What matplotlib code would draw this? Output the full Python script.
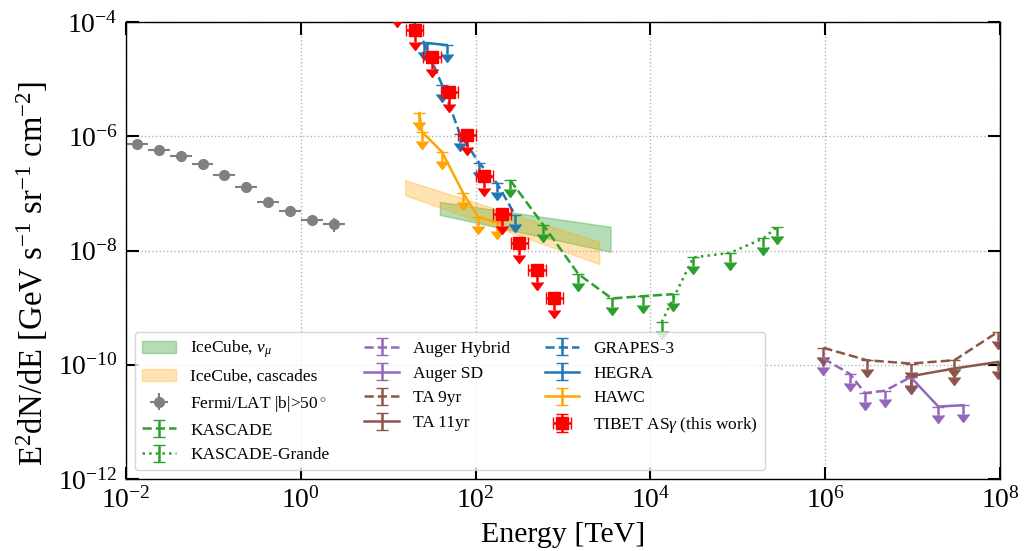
import numpy as np
import matplotlib
matplotlib.use('Agg')
import matplotlib.pyplot as plt
from matplotlib.ticker import FixedLocator, FixedFormatter, NullLocator

plt.rcParams['font.family'] = ['Liberation Serif', 'DejaVu Serif']
plt.rcParams['mathtext.fontset'] = 'custom'
plt.rcParams['mathtext.rm'] = 'Liberation Serif'
plt.rcParams['mathtext.it'] = 'Liberation Serif:italic'
plt.rcParams['mathtext.bf'] = 'Liberation Serif:bold'

# ---------------- data (E in TeV, E^2 dN/dE in GeV s^-1 sr^-1 cm^-2) ----------------
icnumu_E = [39.0, 3500.0]
icnumu_lo = [4.2e-8, 9.5e-9]
icnumu_hi = [7.1e-8, 2.6e-8]

iccasc_E = [15.6, 2600.0]
iccasc_lo = [9.3e-8, 5.8e-9]
iccasc_hi = [1.71e-7, 1.42e-8]

fermi_E = [0.0133, 0.0237, 0.0422, 0.075, 0.133, 0.237, 0.422, 0.75, 1.33, 2.37]
fermi_F = [7.3e-7, 5.7e-7, 4.5e-7, 3.25e-7, 2.1e-7, 1.3e-7, 7.0e-8, 4.9e-8, 3.4e-8, 2.9e-8]
fermi_Ferr = [1.5e-8, 1.1e-8, 9e-9, 7e-9, 5e-9, 3.5e-9, 2.5e-9, 2.5e-9, 3e-9, 8e-9]
fermi_bin = 10 ** 0.125

kascade_E = [248, 596, 1497, 3606, 8300, 18270]
kascade_F = [1.71e-7, 2.79e-8, 3.86e-9, 1.45e-9, 1.59e-9, 1.72e-9]

kgrande_E = [13460, 31000, 81500, 196000, 277000]
kgrande_F = [5.6e-10, 7.57e-9, 9.1e-9, 1.63e-8, 2.54e-8]

augerh_E = [9.5e5, 1.92e6, 2.85e6, 4.83e6, 9.5e6]
augerh_F = [1.29e-10, 6.9e-11, 3.19e-11, 3.52e-11, 6.07e-11]

augersd_E = [9.5e6, 1.97e7, 3.8e7]
augersd_F = [6.07e-11, 1.85e-11, 1.96e-11]

ta9_E = [9.5e5, 3.0e6, 9.5e6, 3.0e7, 9.5e7]
ta9_F = [1.98e-10, 1.2e-10, 1.05e-10, 1.2e-10, 3.77e-10]

ta11_E = [9.5e6, 3.0e7, 9.5e7]
ta11_F = [6.3e-11, 8.6e-11, 1.12e-10]

grapes_E = [16.0, 25.7, 41.3, 66.0, 110.0, 176.0, 282.0]
grapes_F = [2.0e-4, 4.3e-5, 7.9e-6, 1.1e-6, 3.4e-7, 1.5e-7, 4.2e-8]

hegra_E = [27.5, 46.7]
hegra_F = [4.3e-5, 3.96e-5]

hawc_E = [22.7, 24.4, 41.3, 72.3, 107.0, 176.0]
hawc_F = [2.55e-6, 1.19e-6, 5.3e-7, 1.0e-7, 3.85e-8, 3.1e-8]

tibet_E = [12.6, 20.0, 31.6, 50.1, 79.4, 126.0, 200.0, 316.0, 501.0, 794.0]
tibet_F = [1.8e-4, 7.2e-5, 2.47e-5, 6.0e-6, 1.05e-6, 2.0e-7, 4.4e-8, 1.33e-8, 4.5e-9, 1.47e-9]
tibet_bin = 10 ** 0.1

xticks = [1e-2, 1e0, 1e2, 1e4, 1e6, 1e8]
xticklabels = [r'$10^{-2}$', r'$10^{0}$', r'$10^{2}$', r'$10^{4}$', r'$10^{6}$', r'$10^{8}$']
yticks = [1e-12, 1e-10, 1e-8, 1e-6, 1e-4]
yticklabels = [r'$10^{-12}$', r'$10^{-10}$', r'$10^{-8}$', r'$10^{-6}$', r'$10^{-4}$']

# ---------------- figure ----------------
fig = plt.figure(figsize=(10.28, 5.51), dpi=100)
ax = fig.add_axes([0.1226, 0.1307, 0.8502, 0.8293])
ax.set_xscale('log')
ax.set_yscale('log')

LW = 1.8
CS = 4

h_numu = ax.fill_between(icnumu_E, icnumu_lo, icnumu_hi, color='tab:green', alpha=0.35, lw=1)
h_casc = ax.fill_between(iccasc_E, iccasc_lo, iccasc_hi, color='orange', alpha=0.3, lw=1)

fE = np.array(fermi_E)
h_fermi = ax.errorbar(fE, fermi_F, xerr=[fE - fE / fermi_bin, fE * fermi_bin - fE],
                      yerr=fermi_Ferr, fmt='o', color='gray', ms=7, lw=1.5, capsize=0)


def ul(E, F, frac, color, ls):
    F = np.array(F)
    return ax.errorbar(E, F, yerr=F * frac, uplims=True, color=color, ls=ls,
                       lw=LW, elinewidth=LW, capsize=CS)


h_kas = ul(kascade_E, kascade_F, 0.3, 'tab:green', '--')
h_kg = ul(kgrande_E, kgrande_F, 0.3, 'tab:green', ':')
h_ah = ul(augerh_E, augerh_F, 0.3, 'tab:purple', '--')
h_asd = ul(augersd_E, augersd_F, 0.3, 'tab:purple', '-')
h_ta9 = ul(ta9_E, ta9_F, 0.3, 'tab:brown', '--')
h_ta11 = ul(ta11_E, ta11_F, 0.3, 'tab:brown', '-')
h_gr = ul(grapes_E, grapes_F, 0.3, 'tab:blue', '--')
h_he = ul(hegra_E, hegra_F, 0.3, 'tab:blue', '-')
h_hawc = ul(hawc_E, hawc_F, 0.3, 'orange', '-')

tE = np.array(tibet_E)
tF = np.array(tibet_F)
h_tib = ax.errorbar(tE, tF, xerr=[tE - tE / tibet_bin, tE * tibet_bin - tE], yerr=tF * 0.38,
                    uplims=True, fmt='s', color='red', ms=8, lw=LW, capsize=CS, zorder=5)

ax.set_xlim(1e-2, 1e8)
ax.set_ylim(1e-12, 1e-4)
ax.xaxis.set_major_locator(FixedLocator(xticks))
ax.xaxis.set_major_formatter(FixedFormatter(xticklabels))
ax.yaxis.set_major_locator(FixedLocator(yticks))
ax.yaxis.set_major_formatter(FixedFormatter(yticklabels))
ax.xaxis.set_minor_locator(NullLocator())
ax.yaxis.set_minor_locator(NullLocator())
ax.tick_params(which='major', direction='in', length=9, width=1.5, top=True, right=True,
               labelsize=20, pad=6)
ax.grid(True, which='major', ls=':', color='0.7', lw=1)
for s in ax.spines.values():
    s.set_linewidth(1.0)

ax.set_xlabel('Energy [TeV]', fontsize=21.5, labelpad=6)
ax.set_ylabel(r'E$^2$dN/dE [GeV s$^{-1}$ sr$^{-1}$ cm$^{-2}$]', fontsize=23.5)
ax.yaxis.set_label_coords(-0.087, 0.45)

handles = [h_numu, h_casc, h_fermi, h_kas, h_kg, h_ah, h_asd, h_ta9, h_ta11, h_gr, h_he, h_hawc, h_tib]
labels = [r'IceCube, $\nu_\mu$', 'IceCube, cascades', r'Fermi/LAT |b|>50$^\circ$', 'KASCADE',
          'KASCADE-Grande', 'Auger Hybrid', 'Auger SD', 'TA 9yr', 'TA 11yr', 'GRAPES-3', 'HEGRA',
          'HAWC', r'TIBET AS$\gamma$ (this work)']
ax.legend(handles, labels, loc='lower left', ncol=3, fontsize=12.5, framealpha=0.8, edgecolor='0.8')

fig.savefig('out.png', dpi=100)
